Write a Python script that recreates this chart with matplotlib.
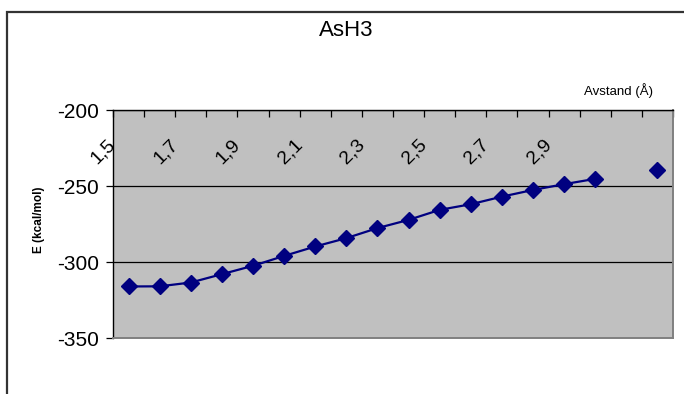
import numpy as np
import matplotlib
matplotlib.use("Agg")
import matplotlib.pyplot as plt
import matplotlib.transforms as mtransforms
from matplotlib.patches import Rectangle

plt.rcParams['font.family'] = ['Liberation Sans', 'DejaVu Sans']

# bond distance (Å) and energy (kcal/mol); 3,1 has no value
avstand = [1.5, 1.6, 1.7, 1.8, 1.9, 2.0, 2.1, 2.2, 2.3, 2.4,
           2.5, 2.6, 2.7, 2.8, 2.9, 3.0, 3.1, 3.2]
energi = [-316.1, -316.0, -313.5, -308.0, -302.5, -296.0, -289.8, -284.3, -277.7, -272.3,
          -265.7, -262.0, -257.0, -252.6, -248.8, -245.3, np.nan, -239.4]
label_step = 2
last_label = 2.9

W, H = 684, 394
fig = plt.figure(figsize=(W / 100, H / 100), dpi=100)
fig.patch.set_facecolor('white')

# chart frame (runs off the right and bottom edges)
fig.patches.append(Rectangle((7 / W, -0.1), 1.2, (H - 12) / H + 0.1,
                             transform=fig.transFigure, fill=False,
                             edgecolor='#333333', linewidth=1.6, clip_on=False))

ax = fig.add_axes([113 / W, (H - 338) / H, 560 / W, 228 / H])
ax.set_facecolor('#C0C0C0')

x = np.arange(len(avstand))
ax.plot(x, energi, color='#000080', linewidth=1.6, marker='D',
        markersize=8, markerfacecolor='#000080', markeredgecolor='#000080')

ax.set_xlim(-0.5, len(avstand) - 0.5)
ax.set_ylim(-350, -200)
ax.set_yticks([-350, -300, -250, -200])
ax.set_yticklabels(['-350', '-300', '-250', '-200'], fontsize=15)
ax.yaxis.grid(True, color='black', linewidth=0.9)
ax.set_axisbelow(True)

# category axis on top, ticks between categories
ax.xaxis.tick_top()
ax.set_xticks(np.arange(len(avstand) + 1) - 0.5)
ax.set_xticklabels([])
ax.tick_params(axis='x', direction='in', length=5, width=0.9, color='black')
ax.tick_params(axis='y', direction='out', length=5, width=0.9, pad=5, color='black')

for side in ['top', 'left']:
    ax.spines[side].set_color('black')
    ax.spines[side].set_linewidth(1.0)
for side in ['bottom', 'right']:
    ax.spines[side].set_color('#808080')
    ax.spines[side].set_linewidth(1.4)

# rotated category labels inside the plot area
trans = mtransforms.blended_transform_factory(ax.transData, ax.transAxes)
for i, v in enumerate(avstand):
    if i % label_step == 0 and v <= last_label + 1e-9:
        lab = f"{v:.1f}".replace('.', ',')
        ax.text(i - 0.5, 0.86, lab, transform=trans, rotation=45,
                rotation_mode='anchor', ha='right', va='center', fontsize=14)

fig.text(346 / W, 1 - 30 / H, 'AsH3', ha='center', va='center', fontsize=16)
fig.text(618 / W, 1 - 91 / H, 'Avstand (Å)', ha='center', va='center', fontsize=9.5)
fig.text(39 / W, 1 - 220 / H, 'E (kcal/mol)', ha='center', va='center',
         rotation=90, fontsize=8.5, fontweight='bold')

fig.savefig('out.png', dpi=100)
